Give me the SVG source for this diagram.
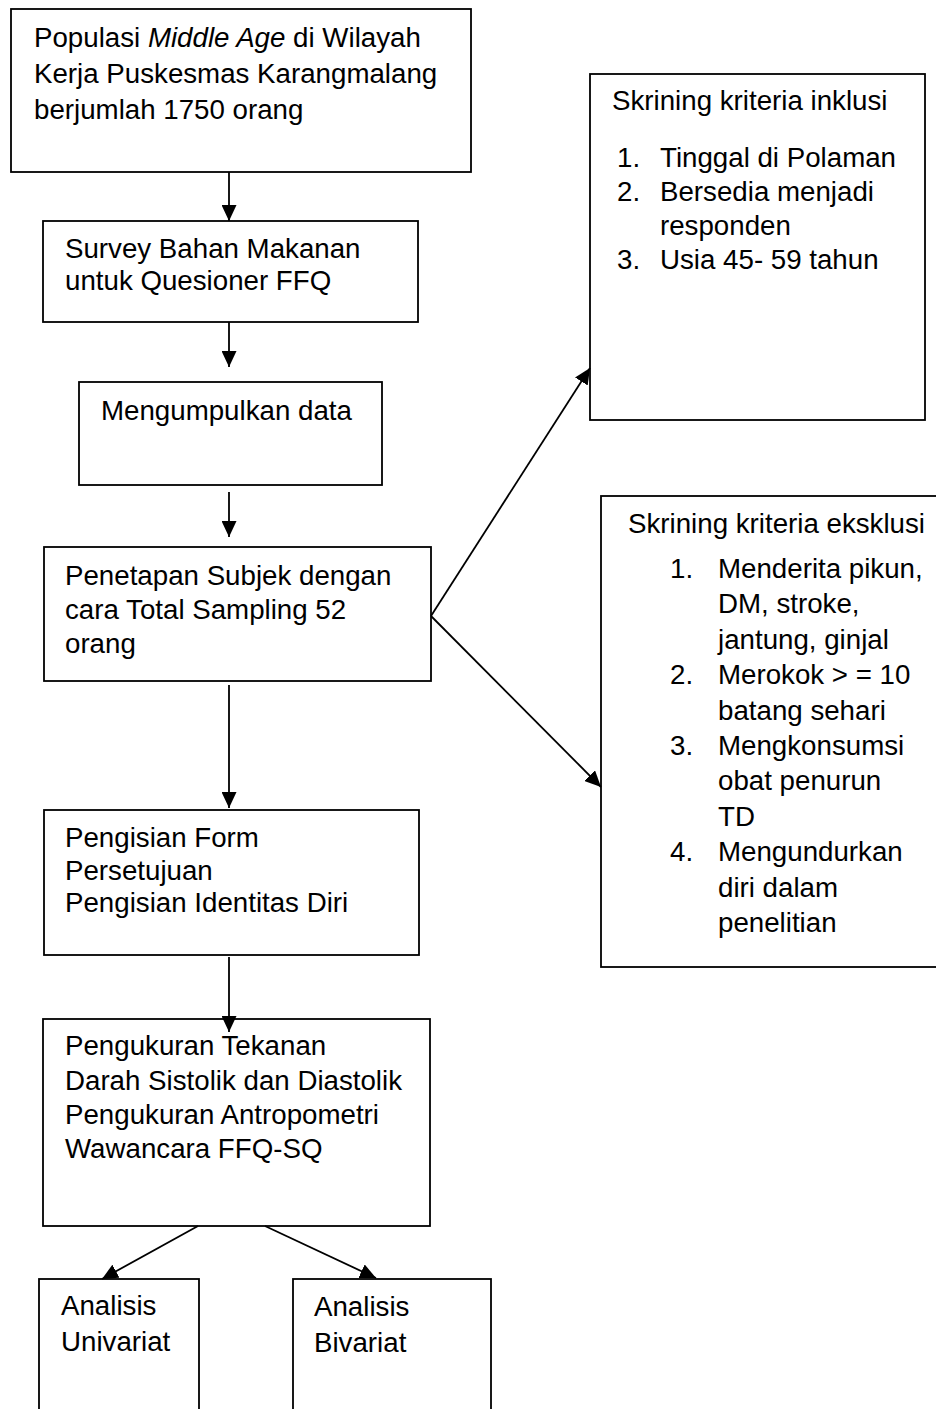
<svg xmlns="http://www.w3.org/2000/svg" width="936" height="1409" viewBox="0 0 936 1409">
  <style>
    .box { fill: #ffffff; stroke: #000000; stroke-width: 1.8; }
    .lbl { font-family: "Liberation Sans", Arial, sans-serif; font-size: 27.7px; fill: #000000; }
    .conn { fill: none; stroke: #000000; stroke-width: 1.8; marker-end: url(#head); }
  </style>
  <defs>
    <marker id="head" markerUnits="userSpaceOnUse" markerWidth="16" markerHeight="15" refX="16" refY="7.5" orient="auto">
      <path d="M0,0 L16,7.5 L0,15 z" fill="#000000"/>
    </marker>
  </defs>
  <rect x="0" y="0" width="936" height="1409" fill="#ffffff"/>

  <!-- population -->
  <g id="populasi">
    <rect class="box" x="11" y="9" width="460" height="163"/>
    <text class="lbl" x="34" y="47">Populasi <tspan font-style="italic">Middle Age</tspan> di Wilayah</text>
    <text class="lbl" x="34" y="83">Kerja Puskesmas Karangmalang</text>
    <text class="lbl" x="34" y="119">berjumlah 1750 orang</text>
  </g>

  <!-- food survey -->
  <g id="survey">
    <rect class="box" x="43" y="221" width="375" height="101"/>
    <text class="lbl" x="65" y="258">Survey Bahan Makanan</text>
    <text class="lbl" x="65" y="290">untuk Quesioner FFQ</text>
  </g>

  <!-- data collection -->
  <g id="mengumpulkan">
    <rect class="box" x="79" y="382" width="303" height="103"/>
    <text class="lbl" x="101" y="420">Mengumpulkan data</text>
  </g>

  <!-- subject selection -->
  <g id="penetapan">
    <rect class="box" x="44" y="547" width="387" height="134"/>
    <text class="lbl" x="65" y="585">Penetapan Subjek dengan</text>
    <text class="lbl" x="65" y="619">cara Total Sampling 52</text>
    <text class="lbl" x="65" y="653">orang</text>
  </g>

  <!-- consent form -->
  <g id="pengisian">
    <rect class="box" x="44" y="810" width="375" height="145"/>
    <text class="lbl" x="65" y="847">Pengisian Form</text>
    <text class="lbl" x="65" y="880">Persetujuan</text>
    <text class="lbl" x="65" y="912">Pengisian Identitas Diri</text>
  </g>

  <!-- measurements -->
  <g id="pengukuran">
    <rect class="box" x="43" y="1019" width="387" height="207"/>
    <text class="lbl" x="65" y="1055">Pengukuran Tekanan</text>
    <text class="lbl" x="65" y="1090">Darah Sistolik dan Diastolik</text>
    <text class="lbl" x="65" y="1124">Pengukuran Antropometri</text>
    <text class="lbl" x="65" y="1158">Wawancara FFQ-SQ</text>
  </g>

  <!-- univariate analysis -->
  <g id="univariat">
    <rect class="box" x="39" y="1279" width="160" height="140"/>
    <text class="lbl" x="61" y="1315">Analisis</text>
    <text class="lbl" x="61" y="1351">Univariat</text>
  </g>

  <!-- bivariate analysis -->
  <g id="bivariat">
    <rect class="box" x="293" y="1279" width="198" height="140"/>
    <text class="lbl" x="314" y="1316">Analisis</text>
    <text class="lbl" x="314" y="1352">Bivariat</text>
  </g>

  <!-- inclusion criteria -->
  <g id="inklusi">
    <rect class="box" x="590" y="74" width="335" height="346"/>
    <text class="lbl" x="612" y="110">Skrining kriteria inklusi</text>
    <text class="lbl" x="617" y="167">1.</text>
    <text class="lbl" x="660" y="167">Tinggal di Polaman</text>
    <text class="lbl" x="617" y="201">2.</text>
    <text class="lbl" x="660" y="201">Bersedia menjadi</text>
    <text class="lbl" x="660" y="235">responden</text>
    <text class="lbl" x="617" y="269">3.</text>
    <text class="lbl" x="660" y="269">Usia 45- 59 tahun</text>
  </g>

  <!-- exclusion criteria -->
  <g id="eksklusi">
    <rect class="box" x="601" y="496" width="345" height="471"/>
    <text class="lbl" x="628" y="533">Skrining kriteria eksklusi</text>
    <text class="lbl" x="670" y="578">1.</text>
    <text class="lbl" x="718" y="578">Menderita pikun,</text>
    <text class="lbl" x="718" y="613">DM, stroke,</text>
    <text class="lbl" x="718" y="649">jantung, ginjal</text>
    <text class="lbl" x="670" y="684">2.</text>
    <text class="lbl" x="718" y="684">Merokok &gt; = 10</text>
    <text class="lbl" x="718" y="720">batang sehari</text>
    <text class="lbl" x="670" y="755">3.</text>
    <text class="lbl" x="718" y="755">Mengkonsumsi</text>
    <text class="lbl" x="718" y="790">obat penurun</text>
    <text class="lbl" x="718" y="826">TD</text>
    <text class="lbl" x="670" y="861">4.</text>
    <text class="lbl" x="718" y="861">Mengundurkan</text>
    <text class="lbl" x="718" y="897">diri dalam</text>
    <text class="lbl" x="718" y="932">penelitian</text>
  </g>

  <!-- connectors -->
  <g id="connectors">
    <line class="conn" x1="229" y1="172" x2="229" y2="221"/>
    <line class="conn" x1="229" y1="322" x2="229" y2="367"/>
    <line class="conn" x1="229" y1="492" x2="229" y2="537"/>
    <line class="conn" x1="229" y1="685" x2="229" y2="808"/>
    <line class="conn" x1="229" y1="957" x2="229" y2="1032"/>
    <line class="conn" x1="198" y1="1226" x2="102" y2="1279"/>
    <line class="conn" x1="265" y1="1226" x2="376" y2="1278"/>
    <line class="conn" x1="431" y1="616" x2="590" y2="368"/>
    <line class="conn" x1="431" y1="616" x2="601" y2="787"/>
  </g>
</svg>
